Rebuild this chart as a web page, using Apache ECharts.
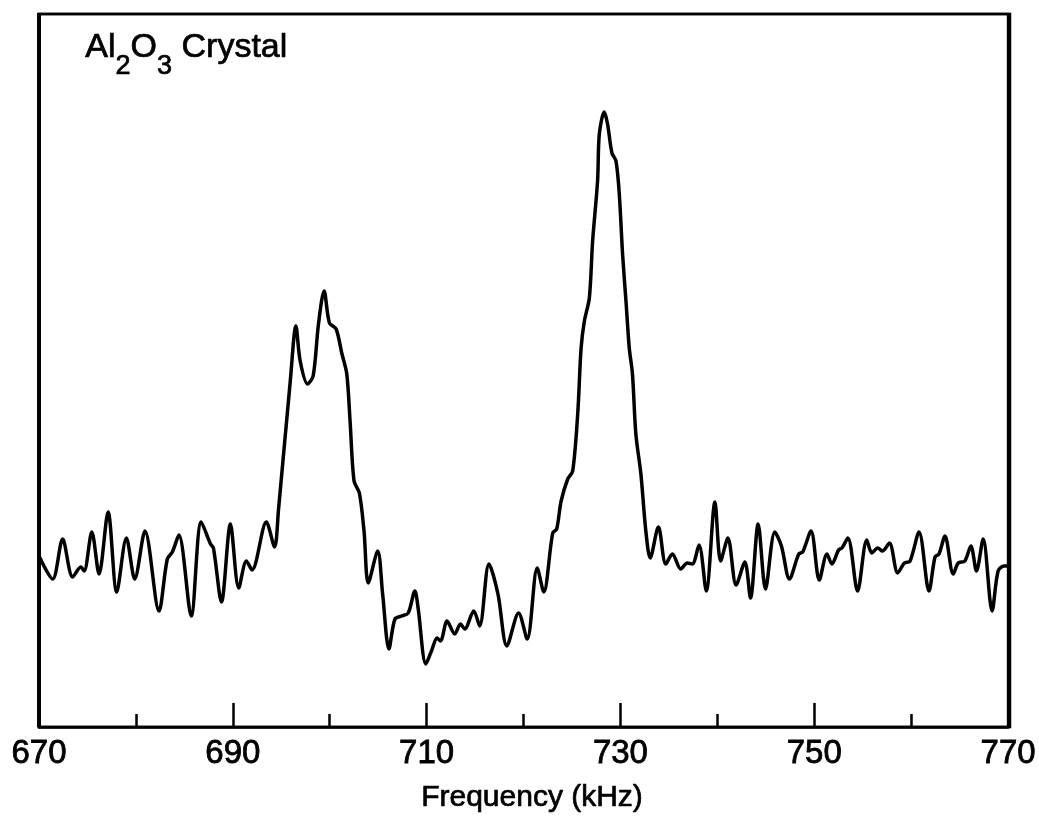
<!DOCTYPE html>
<html>
<head>
<meta charset="utf-8">
<script src="https://cdn.jsdelivr.net/npm/echarts@6/dist/echarts.min.js"></script>
<style>
html,body{margin:0;padding:0;background:#fff;}
#chart{width:1039px;height:820px;}
</style>
</head>
<body>
<div id="chart"></div>
<script>
// Frequency (kHz)
var freq = [
670.0,671.41,672.44,673.47,674.32,674.66,675.45,676.20,677.13,678.02,
679.02,679.88,680.94,682.38,683.24,683.76,684.43,685.71,686.74,687.70,
688.00,688.83,689.75,690.61,691.40,691.99,693.46,694.31,694.72,695.93,
696.51,696.95,697.71,698.29,698.84,699.42,699.97,700.66,701.24,701.76,
702.10,702.51,703.06,703.54,703.98,704.95,705.46,706.11,706.73,707.42,
708.10,708.79,709.12,709.92,710.50,711.08,711.43,712.11,712.90,713.49,
713.93,714.86,715.47,716.43,717.36,718.28,719.49,720.38,721.41,722.09,
723.01,723.42,723.88,724.56,725.07,725.59,725.94,726.28,726.79,727.13,
727.64,727.82,728.33,728.67,729.12,729.54,729.88,730.22,730.57,730.91,
731.24,731.59,732.11,732.62,733.07,733.92,734.68,735.36,736.22,736.90,
737.42,738.11,738.86,739.75,740.34,741.09,741.94,742.84,743.42,744.21,
744.97,745.93,746.61,747.44,748.40,748.81,749.66,750.52,751.31,751.82,
752.51,752.85,753.47,754.47,755.42,755.94,756.55,757.04,757.76,758.61,
759.30,759.89,760.81,761.84,762.46,762.87,763.49,764.34,764.86,765.54,
766.16,766.74,767.43,768.35,768.97,769.59,770.0
];
// Signal (arbitrary units)
var signal = [
171,148,188,150,160,156,195,153,215,135,
189,148,196,116,168,175,192,111,205,183,
179,125,203,139,166,157,205,180,218,346,
401,366,343,351,403,436,404,398,374,353,
306,246,234,196,144,176,133,78,108,111,
114,136,119,63,76,89,86,106,93,103,
98,116,101,163,133,81,114,88,159,135,
194,198,226,248,256,313,379,406,429,486,
546,593,615,603,574,566,533,473,426,379,
353,293,253,196,169,200,163,173,158,164,
163,182,136,225,166,189,142,165,129,203,
138,195,181,148,173,175,196,147,173,163,
177,179,189,136,187,174,179,176,184,154,
164,166,195,136,170,173,191,153,164,166,
181,156,188,116,156,161,161
];
var xLabels = [670, 690, 710, 730, 750, 770];
var majorTicks = [690, 710, 730, 750];
var minorTicks = [680, 700, 720, 740, 760];
var xName = 'Frequency (kHz)';

var chart = echarts.init(document.getElementById('chart'), null, {renderer: 'canvas'});
var FONT = '"Liberation Sans", Arial, Helvetica, sans-serif';
var pts = freq.map(function (f, i) { return [f, signal[i]]; });

chart.setOption({
  animation: false,
  backgroundColor: '#fff',
  grid: {
    left: 39, right: 29, top: 14, bottom: 93,
    show: true, borderColor: '#000', borderWidth: 2.5, backgroundColor: 'transparent'
  },
  xAxis: [{
    type: 'value', min: 670, max: 770, interval: 10,
    axisLine: {show: true, lineStyle: {color: '#000', width: 2.5}},
    axisTick: {show: true, inside: true, length: 13, lineStyle: {color: '#000', width: 2.5}, customValues: minorTicks},
    axisLabel: {
      show: true, color: '#000', fontSize: 33, fontFamily: FONT, margin: 10,
      textBorderColor: '#000', textBorderWidth: 0.8,
      customValues: xLabels,
      formatter: function (v) { return xLabels.indexOf(v) >= 0 ? String(v) : ''; }
    },
    splitLine: {show: false}
  }, {
    type: 'value', min: 670, max: 770, interval: 10, position: 'bottom',
    axisLine: {show: false},
    axisTick: {show: true, inside: true, length: 24, lineStyle: {color: '#000', width: 2.5}, customValues: majorTicks},
    axisLabel: {show: false},
    splitLine: {show: false}
  }],
  yAxis: {
    type: 'value', min: 0, max: 713, show: false, splitLine: {show: false}
  },
  series: [{
    type: 'line', data: pts, xAxisIndex: 0, smooth: 0.3, showSymbol: false,
    lineStyle: {color: '#000', width: 3.5}
  }],
  graphic: [
    {type: 'rect', shape: {x: 39, y: 14, width: 971, height: 713}, style: {fill: 'none', stroke: '#000', lineWidth: 2.5}, silent: true},
    {type: 'line', shape: {x1: 39, y1: 13, x2: 39, y2: 727}, style: {stroke: '#000', lineWidth: 4}, silent: true},
    {type: 'text', left: 85, top: 30, style: {
      text: '{a|Al}{s|2}{a|O}{s|3}{a| Crystal}',
      rich: {
        a: {fontSize: 34, fontFamily: FONT, fill: '#000', verticalAlign: 'top', lineHeight: 50, stroke: '#000', lineWidth: 0.7},
        s: {fontSize: 27, fontFamily: FONT, fill: '#000', verticalAlign: 'bottom', lineHeight: 50, padding: [18, 0, 0, 0], stroke: '#000', lineWidth: 0.7}
      }
    }},
    {type: 'text', x: 532, y: 813, style: {
      text: xName, fontSize: 30, fontFamily: FONT, fill: '#000', textAlign: 'center', textVerticalAlign: 'bottom',
      stroke: '#000', lineWidth: 0.7
    }}
  ]
});
</script>
</body>
</html>
